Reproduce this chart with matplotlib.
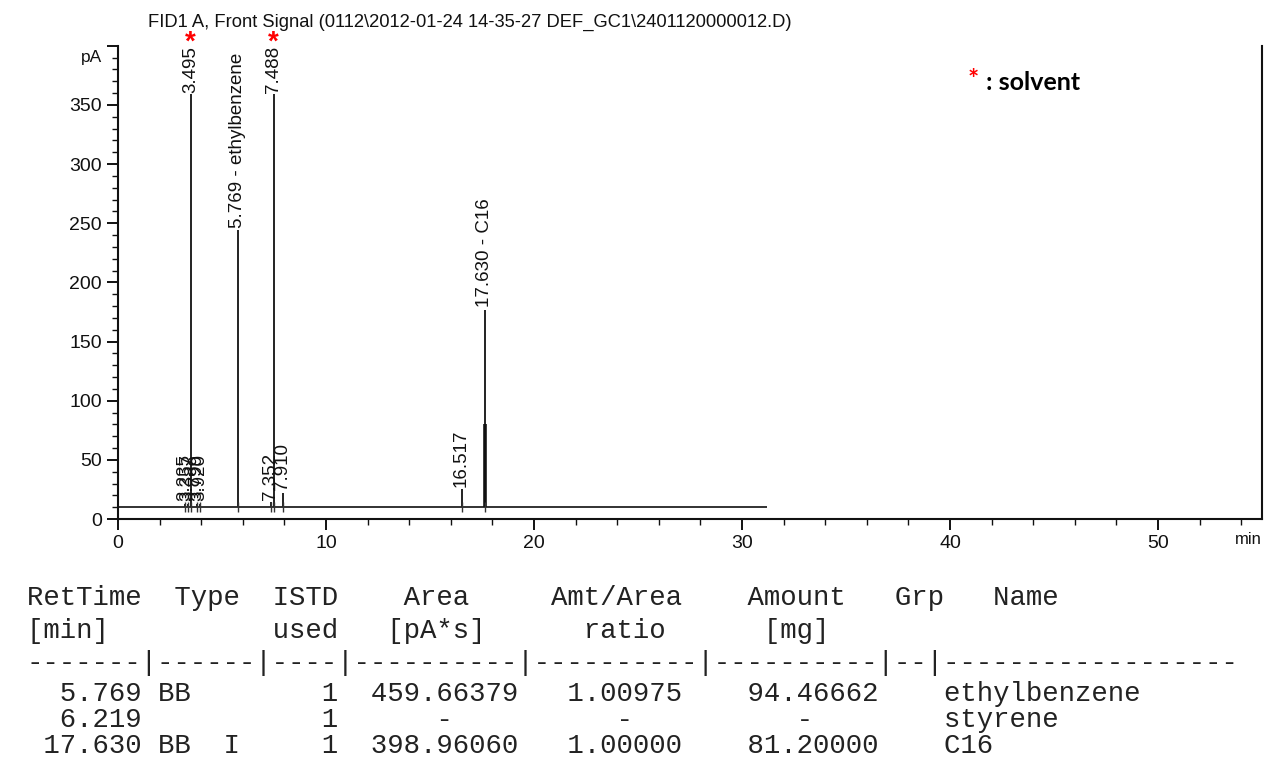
import matplotlib
matplotlib.use("Agg")
import matplotlib.pyplot as plt
from matplotlib.ticker import MultipleLocator

# peaks: retention time (min), apex (pA), label
peak_rt = [3.235, 3.357, 3.495, 3.799, 3.920, 5.769, 7.352, 7.488, 7.910, 16.517, 17.630]
peak_height = [13, 13, 900, 13, 13, 244, 14, 900, 22, 25, 177]
peak_label = ["3.235", "3.357", "3.495", "3.799", "3.920", "5.769 - ethylbenzene",
              "7.352", "7.488", "7.910", "16.517", "17.630 - C16"]
solvent_rt = [3.495, 7.488]
baseline_pa = 10
run_end = 31.2
c16_body = 80

# integration report
hdr1 = ["RetTime", "Type", "ISTD", "Area", "Amt/Area", "Amount", "Grp", "Name"]
hdr2 = ["[min]", "used", "[pA*s]", "ratio", "[mg]"]
ret_time = ["5.769", "6.219", "17.630"]
peak_type = ["BB", "", "BB"]
istd_flag = ["", "", "I"]
istd_used = ["1", "1", "1"]
area = ["459.66379", "-", "398.96060"]
amt_ratio = ["1.00975", "-", "1.00000"]
amount = ["94.46662", "-", "81.20000"]
compound = ["ethylbenzene", "styrene", "C16"]

W, H = 1265, 772
fig = plt.figure(figsize=(W / 100, H / 100), dpi=100)
fig.patch.set_facecolor("white")

ax = fig.add_axes([118 / W, 1 - 519 / H, (1262 - 118) / W, (519 - 45.8) / H])
ax.set_xlim(0, 55)
ax.set_ylim(0, 400)
sans = ["Liberation Sans", "DejaVu Sans"]

# trace
ax.hlines(baseline_pa, 0, run_end, color="#222222", lw=1.3)
ax.vlines(peak_rt, baseline_pa, peak_height, color="#222222", lw=1.4)
ax.vlines(17.630, baseline_pa, c16_body, color="#111111", lw=2.6)
for rt in peak_rt:
    ax.vlines(rt, baseline_pa - 4, baseline_pa + 4, color="#333333", lw=1.0)

# peak labels
for rt, h, lab in zip(peak_rt, peak_height, peak_label):
    if h > 400:
        ax.annotate(lab, xy=(rt, 400), xytext=(0, 0), textcoords="offset points",
                    rotation=90, ha="center", va="top", fontsize=13.5, family=sans,
                    color="#111111", annotation_clip=False,
                    bbox=dict(boxstyle="square,pad=0.05", fc="white", ec="none"))
    else:
        ax.annotate(lab, xy=(rt, h), xytext=(0, 2), textcoords="offset points",
                    rotation=90, ha="center", va="bottom", fontsize=13.5, family=sans,
                    color="#111111", annotation_clip=False)

for rt in solvent_rt:
    ax.annotate("*", xy=(rt, 400), xytext=(0, 2), textcoords="offset points",
                ha="center", va="center", fontsize=20, fontweight="bold",
                color="#ff0000", family=sans, annotation_clip=False)

# axes styling
ax.spines["top"].set_visible(False)
for s in ["left", "bottom", "right"]:
    ax.spines[s].set_linewidth(1.5)
    ax.spines[s].set_color("#111111")
ax.xaxis.set_major_locator(MultipleLocator(10))
ax.xaxis.set_minor_locator(MultipleLocator(2))
ax.set_yticks(range(0, 401, 50))
ax.set_yticklabels([str(v) for v in range(0, 351, 50)] + [""])
ax.yaxis.set_minor_locator(MultipleLocator(10))
ax.tick_params(which="major", direction="out", length=8, width=1.4, labelsize=14,
               colors="#111111")
ax.tick_params(which="minor", direction="out", length=4, width=1.0, colors="#111111")
for t in ax.get_xticklabels() + ax.get_yticklabels():
    t.set_family(sans)
ax.text(-0.014, 390, "pA", transform=ax.get_yaxis_transform(), ha="right", va="center",
        fontsize=12.5, family=sans, color="#111111")
ax.text(1.0, -0.043, "min", transform=ax.transAxes, ha="right", va="center",
        fontsize=12, family=sans, color="#111111")

fig.text(148 / W, 1 - 22 / H,
         "FID1 A, Front Signal (0112\\2012-01-24 14-35-27 DEF_GC1\\2401120000012.D)",
         ha="left", va="center", fontsize=13.2, family=sans, color="#111111")

fig.text(968 / W, 1 - 80 / H, "*", ha="left", va="center", fontsize=19,
         fontweight="bold", color="#ff0000", family=["Lato", "DejaVu Sans"])
fig.text(986 / W, 1 - 83 / H, ": solvent", ha="left", va="center", fontsize=18,
         fontweight="bold", color="black", family=["Lato", "DejaVu Sans"])


# report table, monospaced columns
def line(fields, cols):
    s = ""
    for f, c in zip(fields, cols):
        s = s.ljust(c) + f
    return s


rows = [line(hdr1, [0, 9, 15, 23, 32, 44, 53, 59]),
        line(hdr2, [0, 15, 22, 34, 45]),
        "-------|------|----|----------|----------|----------|--|------------------"]
for i in range(len(ret_time)):
    rows.append(f"{ret_time[i]:>7} {peak_type[i]:<2}  {istd_flag[i]:<1}     {istd_used[i]:>1}  "
                f"{area[i]:^9}   {amt_ratio[i]:^7}    {amount[i]:^8}    {compound[i]}")
row_y = [598, 631, 663, 694, 720, 746]
for s, y in zip(rows, row_y):
    fig.text(26.6 / W, 1 - y / H, s, ha="left", va="center", fontsize=19.75,
             family=["Liberation Mono", "DejaVu Sans Mono"], color="#222222")

fig.savefig("out.png", dpi=100, facecolor="white")
